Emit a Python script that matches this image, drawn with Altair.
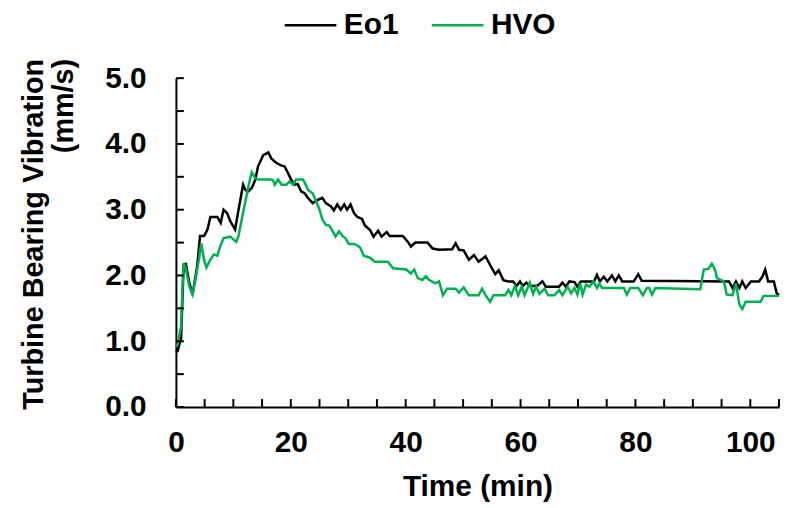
import altair as alt
import pandas as pd

# ---- data ----
eo1_t = [0, 0.3, 0.9, 1.3, 1.7, 2.3, 2.9, 3.7, 4.2, 4.9, 5.5, 6.0, 7.2, 7.8, 8.3, 8.9, 9.5, 10.3, 10.9,
         11.7, 12.1, 12.6, 13.2, 13.8, 14.3, 15.2, 16.1, 16.6, 17.5, 18.4, 18.9, 19.5, 20.1, 20.7, 21.2,
         21.8, 22.4, 23.0, 23.8, 24.7, 25.5, 26.1, 27.0, 27.5, 28.1, 28.7, 29.3, 29.8, 30.4, 31.0, 31.6,
         32.4, 32.9, 33.8, 34.4, 35.2, 35.8, 36.7, 37.2, 39.5, 40.4, 40.9, 41.7, 43.8, 44.7, 45.8, 48.1,
         48.7, 49.3, 50.1, 51.0, 51.9, 52.7, 53.9, 55.0, 55.6, 56.2, 57.0, 57.9, 58.7, 59.3, 59.9, 60.4,
         61.0, 61.6, 62.4, 63.0, 63.8, 64.4, 65.9, 66.7, 67.3, 67.9, 68.5, 69.4, 69.9, 70.5, 72.8, 73.3,
         73.8, 74.5, 75.1, 75.9, 76.5, 77.1, 77.7, 79.7, 80.5, 81.1, 96.3, 96.9, 97.5, 98.1, 98.6, 99.2,
         100.1, 101.5, 102.1, 102.6, 103.1, 104.1, 104.6, 105]
eo1_v = [0.83, 0.85, 1.05, 2.05, 2.19, 1.90, 1.71, 2.14, 2.60, 2.60, 2.70, 2.89, 2.89, 2.80, 3.00, 2.95,
         2.82, 2.70, 3.00, 3.38, 3.30, 3.28, 3.33, 3.45, 3.66, 3.83, 3.87, 3.78, 3.71, 3.67, 3.66, 3.56,
         3.45, 3.38, 3.39, 3.28, 3.25, 3.18, 3.10, 3.15, 3.18, 3.10, 3.05, 2.99, 3.08, 3.00, 3.08, 3.00,
         3.08, 2.95, 2.89, 2.86, 2.76, 2.69, 2.59, 2.68, 2.59, 2.66, 2.60, 2.60, 2.51, 2.44, 2.50, 2.50,
         2.41, 2.39, 2.40, 2.49, 2.39, 2.38, 2.24, 2.31, 2.21, 2.29, 2.11, 2.02, 2.08, 1.93, 1.91, 1.91,
         1.84, 1.91, 1.84, 1.89, 1.84, 1.84, 1.85, 1.91, 1.83, 1.83, 1.83, 1.89, 1.83, 1.91, 1.90, 1.83,
         1.91, 1.91, 2.01, 1.91, 1.98, 1.91, 2.00, 1.91, 2.00, 1.91, 1.91, 2.02, 1.92, 1.91, 1.81, 1.91,
         1.81, 1.91, 1.81, 1.91, 1.91, 1.98, 2.09, 1.91, 1.91, 1.73, 1.70]

hvo_t = [0, 0.3, 0.9, 1.3, 1.7, 2.3, 2.9, 3.4, 4.0, 4.4, 4.9, 5.3, 6.0, 6.6, 7.2, 7.7, 8.3, 9.5, 10.0,
         10.5, 10.9, 11.5, 12.1, 12.6, 13.2, 13.8, 14.3, 16.4, 16.9, 17.2, 17.8, 18.4, 19.2, 19.8, 20.4,
         20.9, 22.1, 22.5, 23.0, 23.8, 24.4, 25.0, 25.5, 26.1, 26.7, 27.3, 27.8, 28.4, 29.0, 29.5, 30.1,
         31.0, 31.5, 32.1, 32.7, 33.8, 34.6, 36.9, 37.8, 40.1, 40.9, 41.5, 42.1, 42.9, 43.5, 44.1, 45.2,
         45.8, 46.5, 47.2, 48.7, 49.3, 50.1, 51.0, 52.7, 53.3, 53.9, 54.7, 55.3, 57.3, 57.9, 58.4, 59.0,
         59.6, 60.2, 60.7, 61.6, 62.2, 62.7, 63.3, 64.2, 64.8, 65.9, 66.7, 67.3, 68.2, 68.8, 69.4, 69.9,
         70.4, 70.8, 71.4, 72.0, 72.7, 73.3, 73.7, 74.2, 78.0, 78.5, 79.1, 80.5, 81.3, 82.0, 82.4, 82.9,
         83.5, 91.3, 91.9, 92.7, 93.3, 93.8, 94.2, 95.4, 95.9, 96.9, 97.5, 98.1, 98.6, 99.2, 99.7, 101.8,
         102.3, 105]
hvo_v = [0.92, 0.95, 1.23, 2.19, 2.12, 1.84, 1.71, 1.94, 2.24, 2.49, 2.24, 2.12, 2.24, 2.32, 2.30, 2.44,
         2.57, 2.59, 2.55, 2.51, 2.60, 2.87, 3.13, 3.35, 3.57, 3.48, 3.46, 3.46, 3.45, 3.38, 3.46, 3.38,
         3.38, 3.43, 3.38, 3.46, 3.46, 3.40, 3.30, 3.25, 3.13, 3.00, 2.85, 2.77, 2.76, 2.67, 2.59, 2.67,
         2.60, 2.57, 2.48, 2.48, 2.46, 2.42, 2.30, 2.27, 2.21, 2.21, 2.11, 2.09, 2.03, 2.09, 1.96, 1.93,
         1.99, 1.93, 1.88, 1.91, 1.70, 1.80, 1.80, 1.74, 1.82, 1.70, 1.70, 1.80, 1.70, 1.60, 1.70, 1.70,
         1.78, 1.70, 1.84, 1.70, 1.83, 1.70, 1.89, 1.72, 1.83, 1.72, 1.80, 1.70, 1.70, 1.78, 1.70, 1.83,
         1.73, 1.81, 1.71, 1.88, 1.71, 1.86, 1.83, 1.91, 1.81, 1.88, 1.81, 1.81, 1.71, 1.81, 1.81, 1.70,
         1.81, 1.81, 1.71, 1.81, 1.79, 2.09, 2.10, 2.18, 2.10, 1.96, 1.91, 1.71, 1.70, 1.88, 1.56, 1.49,
         1.60, 1.60, 1.60, 1.69, 1.69]

series_names = ["Eo1", "HVO"]
series_colors = ["#000000", "#00B050"]
x_label_values = [0, 20, 40, 60, 80, 100]
y_label_values = [0, 1, 2, 3, 4, 5]
x_tick_values = [0, 5, 10, 15, 20, 25, 30, 35, 40, 45, 50, 55, 60, 65, 70, 75, 80, 85, 90, 95, 100, 105]
y_tick_values = [0, 0.5, 1, 1.5, 2, 2.5, 3, 3.5, 4, 4.5, 5]

W, H = 607, 331
FONT = "Liberation Sans"

rows = []
for i, (t, v) in enumerate(zip(eo1_t, eo1_v)):
    rows.append({"t": t, "v": v, "series": "Eo1", "i": i})
for i, (t, v) in enumerate(zip(hvo_t, hvo_v)):
    rows.append({"t": t, "v": v, "series": "HVO", "i": i})
df = pd.DataFrame(rows)

xscale = alt.Scale(domain=[0, 105], nice=False, zero=False)
yscale = alt.Scale(domain=[0, 5], nice=False)

x_axis = alt.Axis(values=x_label_values, title="Time (min)", ticks=False, grid=False,
                  labelFlush=False, labelPadding=21, titlePadding=14, titleFontSize=30)
y_axis = alt.Axis(values=y_label_values, format=".1f", ticks=False, grid=False,
                  labelFlush=False, labelPadding=30,
                  title=["Turbine Bearing Vibration", "(mm/s)"],
                  titleAngle=-90, titleAlign="right", titleBaseline="top",
                  titleX=-157, titleY=-20, titleLineHeight=30, titleFontSize=29)

lines = alt.Chart(df).mark_line(strokeWidth=2.5).encode(
    x=alt.X("t:Q", scale=xscale, axis=x_axis),
    y=alt.Y("v:Q", scale=yscale, axis=y_axis),
    color=alt.Color("series:N",
                    scale=alt.Scale(domain=series_names, range=series_colors),
                    legend=alt.Legend(orient="none", legendX=108, legendY=-81, direction="horizontal",
                                      title=None, symbolType="stroke", symbolSize=2700,
                                      symbolStrokeWidth=2.5, labelFontSize=30, labelFont=FONT,
                                      labelFontWeight="bold", labelColor="black",
                                      columnPadding=27, labelOffset=6, padding=0)),
    detail="series:N",
    order="i:Q",
)

xticks = alt.Chart(pd.DataFrame({"t": x_tick_values})).mark_rule(color="black", strokeWidth=2).encode(
    x=alt.X("t:Q", scale=xscale, axis=x_axis),
    y=alt.value(H), y2=alt.value(H - 8),
)
yticks = alt.Chart(pd.DataFrame({"v": y_tick_values})).mark_rule(color="black", strokeWidth=2).encode(
    y=alt.Y("v:Q", scale=yscale, axis=y_axis),
    x=alt.value(0), x2=alt.value(8),
)

chart = alt.layer(lines, xticks, yticks).properties(
    width=W, height=H,
    autosize=alt.AutoSizeParams(type="none"),
    padding={"left": 169, "top": 69, "right": 2, "bottom": 99},
).configure_view(stroke=None).configure_axis(
    labelFont=FONT, labelFontWeight="bold", labelFontSize=30, labelColor="black",
    titleFont=FONT, titleFontWeight="bold", titleColor="black",
    domainColor="black", domainWidth=2,
)

chart.save("out.html", embed_options={"renderer": "svg", "actions": False})
